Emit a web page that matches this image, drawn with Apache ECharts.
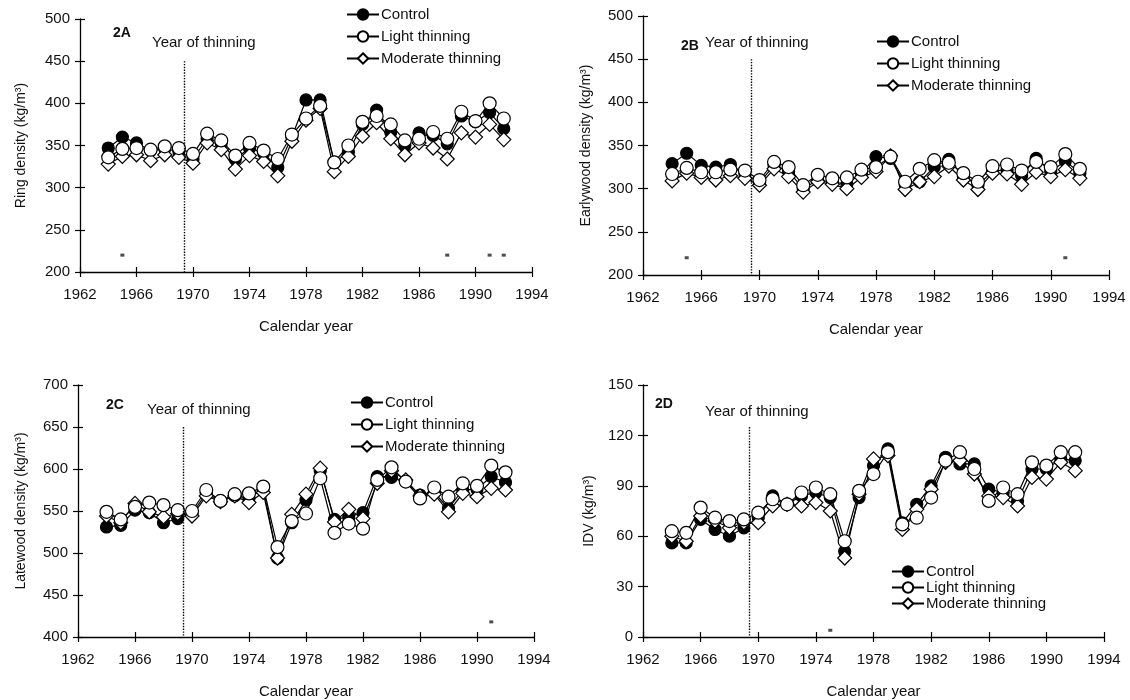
<!DOCTYPE html>
<html>
<head>
<meta charset="utf-8">
<script src="https://cdn.jsdelivr.net/npm/echarts@6/dist/echarts.min.js"></script>
<style>
  html, body { margin: 0; padding: 0; background: #fff; }
  #chart { width: 1130px; height: 700px; }
</style>
</head>
<body>
<div id="chart"></div>
<script>
// Calendar years of the ring series
const years = [1964,1965,1966,1967,1968,1969,1970,1971,1972,1973,1974,1975,1976,1977,1978,
               1979,1980,1981,1982,1983,1984,1985,1986,1987,1988,1989,1990,1991,1992];
const thinYear = 1969.4;
const treatments = ['Control', 'Light thinning', 'Moderate thinning'];
const xTicks = { min: 1962, max: 1994, interval: 4 };

// 2A Ring density (kg/m3)
const ringControl  = [347,360,353,344,346,343,334,358,353,334,347,341,324,360,404,404,330,342,375,392,366,350,365,362,352,385,378,389,370];
const ringLight    = [336,346,347,345,349,347,340,364,356,338,353,344,334,363,382,397,330,350,378,385,375,356,358,366,358,390,379,400,382];
const ringModerate = [328,337,339,332,339,336,329,353,345,322,338,331,314,355,380,394,319,337,361,377,358,339,353,347,334,365,360,375,357];
const ringSig      = [[1965,220],[1988,220],[1991,220],[1992,220]];

// 2B Earlywood density (kg/m3)
const earlyControl  = [329,341,327,325,328,317,307,327,320,300,310,308,305,318,337,335,305,308,325,334,314,304,320,322,315,335,320,332,318];
const earlyLight    = [317,324,319,319,322,321,310,331,325,304,316,312,313,322,325,337,308,323,333,330,318,308,326,328,321,331,325,340,323];
const earlyModerate = [309,318,313,310,315,312,304,323,314,296,308,305,300,313,320,338,299,308,314,326,310,299,318,317,305,319,314,322,312];
const earlySig      = [[1965,220],[1991,220]];

// 2C Latewood density (kg/m3)
const lateControl  = [531,533,551,548,536,541,547,571,562,568,565,577,494,536,563,598,540,543,548,591,590,585,569,572,553,575,576,591,584];
const lateLight    = [549,540,555,560,557,551,550,575,562,570,571,579,507,538,547,589,524,535,529,587,602,585,565,578,567,583,580,604,596];
const lateModerate = [544,536,559,549,543,547,544,568,561,568,560,572,494,546,570,601,537,552,541,583,598,587,568,570,549,571,567,577,575];
const lateSig      = [[1991,418]];

// 2D Intra-ring density variation, IDV (kg/m3)
const idvControl  = [56,56,70,64,60,65,71,84,79,84,86,83,51,83,102,112,68,79,90,107,103,103,88,86,81,100,100,106,105];
const idvLight    = [63,62,77,71,69,70,74,82,79,86,89,85,57,87,97,110,67,71,83,105,110,100,81,89,85,104,102,110,110];
const idvModerate = [60,57,72,69,65,68,68,78,79,78,80,75,47,85,106,108,64,76,88,104,105,97,84,83,78,95,94,104,99];
const idvSig      = [[1975,4]];

const FONT = '"Liberation Sans", Arial, Helvetica, sans-serif';
const INK = '#111';

const panels = [
  { tag: '2A', yName: 'Ring density (kg/m\u00B3)', yMin: 200, yMax: 500, yStep: 50,
    grid: { left: 80, top: 19, width: 452, height: 253 },
    data: [ringControl, ringLight, ringModerate], sig: ringSig, lineTop: 450,
    tagPos: [113, 26], notePos: [152, 35], yGap: 52,
    legend: { left: 346, top: 7, itemGap: 7 } },
  { tag: '2B', yName: 'Earlywood density (kg/m\u00B3)', yMin: 200, yMax: 500, yStep: 50,
    grid: { left: 643, top: 16, width: 466, height: 259 },
    data: [earlyControl, earlyLight, earlyModerate], sig: earlySig, lineTop: 450,
    tagPos: [681, 39], notePos: [705, 35], yGap: 50,
    legend: { left: 876, top: 34, itemGap: 7 } },
  { tag: '2C', yName: 'Latewood density (kg/m\u00B3)', yMin: 400, yMax: 700, yStep: 50,
    grid: { left: 78, top: 385, width: 456, height: 252 },
    data: [lateControl, lateLight, lateModerate], sig: lateSig, lineTop: 650,
    tagPos: [106, 398], notePos: [147, 402], yGap: 50,
    legend: { left: 350, top: 395, itemGap: 7 } },
  { tag: '2D', yName: 'IDV (kg/m\u00B3)', yMin: 0, yMax: 150, yStep: 30,
    grid: { left: 643, top: 385, width: 461, height: 253 },
    data: [idvControl, idvLight, idvModerate], sig: idvSig, lineTop: 125,
    tagPos: [655, 397], notePos: [705, 404], yGap: 47,
    legend: { left: 891, top: 564, itemGap: 1 } }
];

// marker look for each treatment: filled circle, open circle, open diamond
const markerStyle = [
  { symbol: 'circle',  size: 12, fill: '#000' },
  { symbol: 'circle',  size: 13, fill: '#fff' },
  { symbol: 'diamond', size: 14, fill: '#fff' }
];
// draw order: control, moderate, light on top
const drawOrder = [0, 2, 1];

const option = {
  backgroundColor: '#fff',
  animation: false,
  textStyle: { fontFamily: FONT, color: INK },
  title: [],
  legend: [],
  grid: [],
  xAxis: [],
  yAxis: [],
  series: []
};

panels.forEach((p, i) => {
  option.grid.push(Object.assign({ containLabel: false }, p.grid));

  const xBase = {
    type: 'value', gridIndex: i, min: xTicks.min, max: xTicks.max, interval: xTicks.interval,
    splitLine: { show: false }
  };
  const yBase = {
    type: 'value', gridIndex: i, min: p.yMin, max: p.yMax, interval: p.yStep,
    splitLine: { show: false }
  };

  // main axes: line, outward ticks, labels, names
  option.xAxis.push(Object.assign({}, xBase, {
    position: 'bottom',
    axisLine: { show: true, lineStyle: { color: '#000', width: 1.3 } },
    axisTick: { show: true, length: 5, lineStyle: { color: '#000', width: 1.2 } },
    axisLabel: { fontSize: 15, color: INK, margin: 15, fontFamily: FONT, formatter: v => String(v) },
    name: 'Calendar year', nameLocation: 'middle', nameGap: 47,
    nameTextStyle: { fontSize: 15, color: INK, fontFamily: FONT }
  }));
  option.yAxis.push(Object.assign({}, yBase, {
    position: 'left',
    axisLine: { show: true, lineStyle: { color: '#000', width: 1.3 } },
    axisTick: { show: true, length: 5, lineStyle: { color: '#000', width: 1.2 } },
    axisLabel: { fontSize: 15, color: INK, margin: 10, fontFamily: FONT, formatter: v => String(v) },
    name: p.yName, nameLocation: 'middle', nameGap: p.yGap,
    nameTextStyle: { fontSize: 14, color: INK, fontFamily: FONT }
  }));
});

// companion axes carrying the inward half of each crossing tick
panels.forEach((p, i) => {
  option.xAxis.push({
    type: 'value', gridIndex: i, min: xTicks.min, max: xTicks.max, interval: xTicks.interval,
    position: 'bottom', splitLine: { show: false }, axisLine: { show: false },
    axisLabel: { show: false },
    axisTick: { show: true, inside: true, length: 5, lineStyle: { color: '#000', width: 1.2 } }
  });
  option.yAxis.push({
    type: 'value', gridIndex: i, min: p.yMin, max: p.yMax, interval: p.yStep,
    position: 'left', splitLine: { show: false }, axisLine: { show: false },
    axisLabel: { show: false },
    axisTick: { show: true, inside: true, length: 5, lineStyle: { color: '#000', width: 1.2 } }
  });
});

panels.forEach((p, i) => {
  option.title.push({
    text: p.tag, left: p.tagPos[0], top: p.tagPos[1], padding: 0,
    textStyle: { fontSize: 14, fontWeight: 'bold', color: INK, fontFamily: FONT }
  });
  option.title.push({
    text: 'Year of thinning', left: p.notePos[0], top: p.notePos[1], padding: 0,
    textStyle: { fontSize: 15, fontWeight: 'normal', color: INK, fontFamily: FONT }
  });
  option.legend.push(Object.assign({
    data: treatments, orient: 'vertical', padding: 0, selectedMode: false,
    itemWidth: 32, itemHeight: 13,
    textStyle: { fontSize: 15, color: INK, fontFamily: FONT, padding: [0, 0, 0, -3] }
  }, p.legend));

  drawOrder.forEach(k => {
    const m = markerStyle[k];
    const s = {
      name: treatments[k], type: 'line', xAxisIndex: i, yAxisIndex: i,
      data: years.map((y, j) => [y, p.data[k][j]]),
      symbol: m.symbol, symbolSize: m.size, showSymbol: true,
      lineStyle: { color: '#000', width: 1.2 },
      itemStyle: { color: m.fill, borderColor: '#000', borderWidth: 1.2 },
      emphasis: { disabled: true },
      z: 3
    };
    if (k === 0) {
      s.markLine = {
        silent: true, symbol: ['none', 'none'], label: { show: false },
        lineStyle: { type: 'dotted', color: '#000', width: 1.4 },
        data: [[{ coord: [thinYear, p.lineTop] }, { coord: [thinYear, p.yMin] }]]
      };
    }
    option.series.push(s);
  });

  // years with significant treatment differences
  option.series.push({
    name: 'sig' + p.tag, type: 'scatter', xAxisIndex: i, yAxisIndex: i,
    data: p.sig, symbol: 'rect', symbolSize: [4, 3],
    itemStyle: { color: '#222' }, silent: true, z: 2
  });
});

const chart = echarts.init(document.getElementById('chart'), null, { renderer: 'canvas' });
chart.setOption(option);
</script>
</body>
</html>
